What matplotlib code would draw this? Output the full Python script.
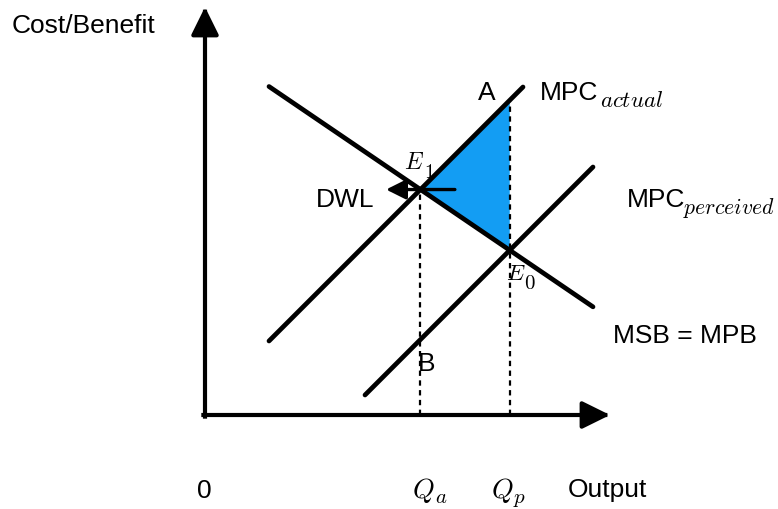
import numpy as np
import matplotlib
matplotlib.use("Agg")
import matplotlib.pyplot as plt
from matplotlib.patches import Polygon

# ---- model: linear curves P = intercept + slope * Q ----
curve_names = ["MSB = MPB", "MPC actual", "MPC perceived"]
intercepts = [9.3, 0.25, -3.5]
slopes = [-0.68, 1.0, 1.0]
q_start = [1.6, 1.6, 4.0]
q_end = [9.7, 7.95, 9.7]

axis_x_max = 10.125
axis_y_max = 10.2
arrow_half_len = 0.86

W, H = 778, 509
SANS = "Liberation Sans"
FILL = "#139DF3"

fig = plt.figure(figsize=(W / 100, H / 100), dpi=100)
ax = fig.add_axes([0, 0, 1, 1])
ax.set_xlim(-205 / 40, (W - 205) / 40)
ax.set_ylim(-(H - 415) / 40, 415 / 40)
ax.axis("off")


def price(i, q):
    return intercepts[i] + slopes[i] * q


def cross(i, j):
    q = (intercepts[j] - intercepts[i]) / (slopes[i] - slopes[j])
    return q, price(i, q)


# equilibria
q_a, p_e1 = cross(0, 1)   # E1: demand meets actual cost
q_p, p_e0 = cross(0, 2)   # E0: demand meets perceived cost
p_a = price(1, q_p)       # A: actual cost at perceived output

# deadweight-loss triangle
ax.add_patch(Polygon([[q_a, p_e1], [q_p, p_a], [q_p, p_e0]], closed=True,
                     facecolor=FILL, edgecolor="none", zorder=1))

# dashed guides to the output axis
for q, top in [(q_a, p_e1), (q_p, p_a)]:
    ln, = ax.plot([q, q], [0, top], color="black", lw=1.6, zorder=2)
    ln.set_dashes([2.4, 2.0])

# curves
for i in range(3):
    qs = np.array([q_start[i], q_end[i]])
    ax.plot(qs, price(i, qs), color="black", lw=3.4,
            solid_capstyle="round", zorder=3)

# axes with arrowheads
axis_style = dict(arrowstyle="-|>,head_length=0.85,head_width=0.42",
                  mutation_scale=20, lw=3.0, color="black",
                  shrinkA=0, shrinkB=0, capstyle="projecting")
ax.annotate("", xy=(0, axis_y_max), xytext=(0, -0.04), arrowprops=axis_style)
ax.annotate("", xy=(axis_x_max, 0), xytext=(-0.04, 0), arrowprops=axis_style)

# DWL arrow through E1
ax.annotate("", xy=(q_a - arrow_half_len, p_e1),
            xytext=(q_a + arrow_half_len, p_e1),
            arrowprops=dict(arrowstyle="-|>,head_length=0.7,head_width=0.35",
                            mutation_scale=17, lw=2.4, color="black",
                            shrinkA=0, shrinkB=0), zorder=4)


def put(x, y, s, size, family=SANS):
    fig.text(x / W, 1 - y / H, s, fontsize=size, family=family,
             math_fontfamily="cm", ha="left", va="baseline", color="black")


put(12, 33, "Cost/Benefit", 19)
put(478, 100, "A", 19)
put(540, 100, "MPC", 19)
put(600, 107, r"$actual$", 16.5)
put(627, 207, "MPC", 19)
put(683, 214, r"$perceived$", 15.6)
put(613, 343, "MSB = MPB", 19)
put(316, 207, "DWL", 19)
put(404, 169, r"$E$", 17)
put(424, 178, r"$\mathrm{1}$", 14.5)
put(506, 280, r"$E$", 16.5)
put(524, 289, r"$\mathrm{0}$", 15)
put(418, 371, "B", 19)
put(197, 498, "0", 19)
put(412, 498, r"$Q$", 20)
put(435, 503, r"$a$", 15)
put(491, 498, r"$Q$", 20)
put(513, 503, r"$p$", 15)
put(568, 497, "Output", 19)

fig.savefig("out.png", dpi=100)
